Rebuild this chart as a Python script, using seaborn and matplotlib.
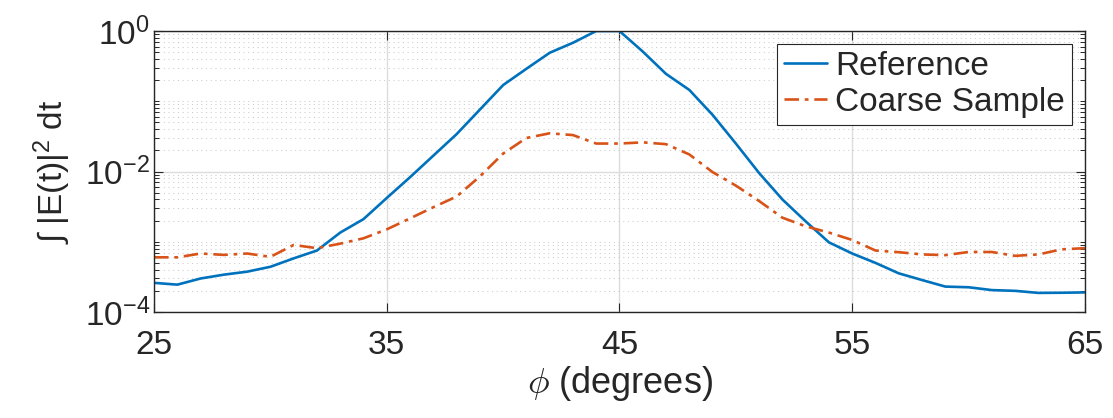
import numpy as np
import pandas as pd
import matplotlib
matplotlib.use("Agg")
import matplotlib.pyplot as plt
import matplotlib.ticker as mticker
import seaborn as sns

# ---- data ----
phi = list(range(25, 66))
reference = [2.6e-4, 2.45e-4, 3.0e-4, 3.4e-4, 3.75e-4, 4.4e-4, 5.8e-4, 7.5e-4, 1.35e-3, 2.1e-3,
             4.2e-3, 8.3e-3, 0.0168, 0.034, 0.076, 0.17, 0.29, 0.49, 0.68, 1.0,
             1.0, 0.51, 0.245, 0.145, 0.064, 0.025, 0.0095, 4.0e-3, 1.95e-3, 9.8e-4,
             6.8e-4, 5.0e-4, 3.55e-4, 2.85e-4, 2.3e-4, 2.25e-4, 2.05e-4, 2.0e-4, 1.87e-4, 1.88e-4,
             1.9e-4]
coarse = [6.0e-4, 6.0e-4, 6.8e-4, 6.5e-4, 6.8e-4, 6.1e-4, 9.0e-4, 8.1e-4, 9.4e-4, 1.12e-3,
          1.5e-3, 2.15e-3, 3.1e-3, 4.4e-3, 8.5e-3, 0.018, 0.030, 0.035, 0.033, 0.025,
          0.025, 0.026, 0.0245, 0.0175, 0.0098, 6.3e-3, 3.8e-3, 2.2e-3, 1.66e-3, 1.35e-3,
          1.06e-3, 7.5e-4, 7.1e-4, 6.6e-4, 6.45e-4, 7.15e-4, 7.15e-4, 6.3e-4, 6.6e-4, 7.8e-4,
          8.1e-4]
series_names = ["Reference", "Coarse Sample"]
x_ticks = [25, 35, 45, 55, 65]
y_ticks = [1e-4, 1e-2, 1e0]

df = pd.DataFrame({"phi": phi, "Reference": reference, "Coarse Sample": coarse})

sns.set_theme(style="white")
plt.rcParams["font.family"] = ["Liberation Sans", "DejaVu Sans"]
plt.rcParams["mathtext.fontset"] = "custom"
plt.rcParams["mathtext.rm"] = "Liberation Sans"
plt.rcParams["mathtext.it"] = "Liberation Sans:italic"

fig = plt.figure(figsize=(11.13, 4.18), dpi=100)
ax = fig.add_axes([0.1384, 0.2536, 0.8364, 0.6722])

blue = "#0072BD"
orange = "#D95319"
sns.lineplot(data=df, x="phi", y="Reference", ax=ax, color=blue, lw=1.9,
             label=series_names[0])
sns.lineplot(data=df, x="phi", y="Coarse Sample", ax=ax, color=orange, lw=1.9,
             linestyle=(0, (5.5, 2.2, 1.4, 2.2)), label=series_names[1])

ax.set_yscale("log")
ax.set_xlim(25, 65)
ax.set_ylim(1e-4, 1e0)
ax.set_xticks(x_ticks)
ax.set_xticklabels([str(t) for t in x_ticks])
ax.yaxis.set_major_locator(mticker.FixedLocator(y_ticks))
ax.yaxis.set_major_formatter(mticker.LogFormatterSciNotation())
ax.yaxis.set_minor_locator(mticker.LogLocator(base=10, subs=np.arange(1, 10), numticks=100))
ax.yaxis.set_minor_formatter(mticker.NullFormatter())
ax.xaxis.set_minor_locator(mticker.NullLocator())

ax.grid(True, which="major", color="#dcdcdc", lw=1.0, ls="-")
ax.grid(True, which="minor", axis="y", color="#cccccc", lw=0.75, ls=(0, (1, 3.5)))
ax.set_axisbelow(True)

for s in ax.spines.values():
    s.set_color("#262626")
    s.set_linewidth(1.0)
    s.set_visible(True)

ax.tick_params(which="both", direction="in", top=True, right=True, bottom=True, left=True,
               colors="#262626", labelcolor="#262626", labelsize=24)
ax.tick_params(which="major", length=6.5, width=0.8)
ax.tick_params(which="minor", length=3.5, width=0.7)
ax.tick_params(axis="x", which="major", pad=13)
ax.tick_params(axis="y", which="major", pad=3)

ax.set_xlabel(r"$\phi$ (degrees)", fontsize=26, color="#262626", labelpad=2,
              math_fontfamily="cm")
ax.set_ylabel("\u222b |E(t)|$^\\mathregular{2}$ dt", fontsize=24, color="#262626",
              labelpad=8)

leg = ax.legend(loc="upper right", fontsize=24, frameon=True, fancybox=False,
                edgecolor="#262626", framealpha=1, borderpad=0.2, labelspacing=0.15,
                handlelength=1.3, handletextpad=0.25, borderaxespad=0.4)
leg.get_frame().set_linewidth(0.8)

fig.savefig("out.png", dpi=100)
